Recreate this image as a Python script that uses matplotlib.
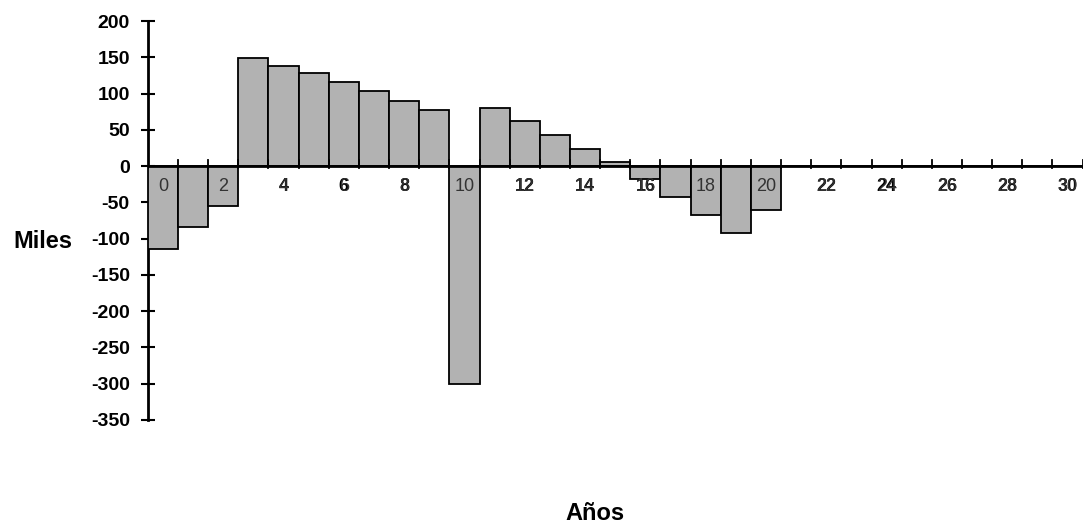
import matplotlib.pyplot as plt
import numpy as np

plt.rcParams['font.family'] = ['Liberation Sans', 'DejaVu Sans']
plt.rcParams['axes.unicode_minus'] = False

years = list(range(31))
values = [-114, -84, -55, 149, 138, 128, 116, 104, 90, 77,
          -300, 80, 62, 43, 23, 5, -18, -42, -67, -93, -60,
          0, 0, 0, 0, 0, 0, 0, 0, 0, 0]
tick_years = list(range(0, 31, 2))
y_ticks = list(range(-350, 201, 50))

fig = plt.figure(figsize=(10.87, 5.28), dpi=100)
ax = fig.add_axes([0.136, 0.205, 0.86, 0.755])

ax.bar(years, values, width=1.0, color='#b2b2b2', edgecolor='black',
       linewidth=1.3, zorder=3)

ax.set_xlim(-0.5, 30.5)
ax.set_ylim(-350, 200)

# x axis drawn at zero with ticks on category boundaries
ax.axhline(0, color='black', linewidth=2, zorder=4)
for b in np.arange(-0.5, 31, 1):
    ax.plot([b, b], [-3, 8], color='black', linewidth=1.3, zorder=4)

# labels drawn twice: bold under the bars, regular over them
for yr in tick_years:
    ax.text(yr, -16, str(yr), ha='center', va='top', fontsize=13,
            fontweight='bold', color='black', zorder=2)
    ax.text(yr, -16, str(yr), ha='center', va='top', fontsize=13,
            color='#333333', zorder=5)

for s in ['top', 'right', 'bottom']:
    ax.spines[s].set_visible(False)
ax.spines['left'].set_linewidth(2)
ax.set_xticks([])
ax.set_yticks(y_ticks)
ax.tick_params(axis='y', direction='inout', length=10, width=1.5,
               labelsize=14, pad=8)
for lbl in ax.get_yticklabels():
    lbl.set_fontweight('bold')

fig.text(0.039, 0.542, 'Miles', fontsize=17, fontweight='bold',
         ha='center', va='center')
fig.text(0.547, 0.028, 'Años', fontsize=17, fontweight='bold',
         ha='center', va='center')

fig.savefig('out.png', dpi=100)
